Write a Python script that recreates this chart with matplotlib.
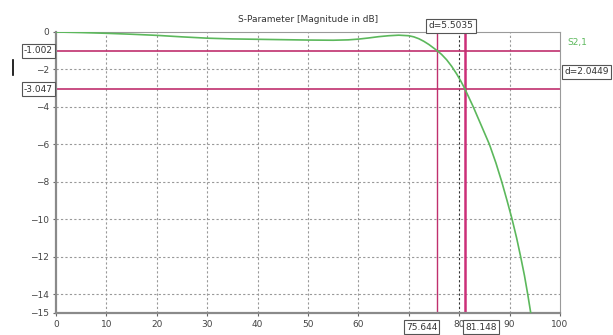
import matplotlib.pyplot as plt
from matplotlib.lines import Line2D

# S2,1 magnitude (dB) vs frequency
freq = [0, 5, 10, 15, 20, 25, 30, 35, 40, 45, 50, 55, 58, 60, 62, 64, 66, 68,
        70, 71, 72, 73, 74, 75, 75.644, 76.5, 77.5, 78.5, 79.5, 80.3, 81.148,
        82.8, 84.4, 86.0, 87.3, 88.45, 89.5, 90.5, 91.4, 92.2, 92.95, 93.6, 94.2]
mag = [0, -0.03, -0.07, -0.12, -0.18, -0.26, -0.33, -0.37, -0.39, -0.41, -0.43,
       -0.44, -0.42, -0.38, -0.32, -0.25, -0.2, -0.17, -0.2, -0.26, -0.36, -0.5,
       -0.67, -0.87, -1.002, -1.196, -1.48, -1.83, -2.24, -2.61, -3.047,
       -4.0, -5.0, -6.0, -7.0, -8.0, -9.0, -10.0, -11.0, -12.0, -13.0, -14.0, -15.0]

# markers
mark_x = [75.644, 81.148]
mark_y = [-1.002, -3.047]
dx_label = 'd=5.5035'
dy_label = 'd=2.0449'

xticks = [0, 10, 20, 30, 40, 50, 60, 70, 80, 90, 100]
# 70 sits under the 75.644 box in the reference
xlabels = ['0', '10', '20', '30', '40', '50', '60', '', '80', '90', '100']
yticks = [0, -2, -4, -6, -8, -10, -12, -14, -15]

mag_col = '#c0306e'
box = dict(boxstyle='square,pad=0.25', fc='white', ec='#555555', lw=0.8)

fig = plt.figure(figsize=(6.13, 3.35), dpi=100)
ax = fig.add_axes([0.0914, 0.0657, 0.8221, 0.8388])

# grid
for x in xticks[1:-1]:
    c = '#333333' if x == 80 else '#999999'
    ax.axvline(x, color=c, lw=0.8, ls=(0, (2, 2)), zorder=1)
for y in yticks[1:-1]:
    ax.axhline(y, color='#999999', lw=0.8, ls=(0, (2, 2)), zorder=1)

ax.plot(freq, mag, color='#5cb85c', lw=1.2, zorder=3)

ax.axvline(mark_x[0], color=mag_col, lw=1.0, zorder=2)
ax.axvline(mark_x[1], color='#cc2f78', lw=1.8, zorder=2)
for y in mark_y:
    ax.axhline(y, color=mag_col, lw=1.2, zorder=2)

ax.set_xlim(0, 100)
ax.set_ylim(-15, 0)
ax.set_xticks(xticks)
ax.set_xticklabels(xlabels)
ax.set_yticks(yticks)
ax.tick_params(labelsize=6.5, labelcolor='#444444', length=2, color='#666666', pad=3)

for s in ['left', 'bottom']:
    ax.spines[s].set_color('#8a8a8a')
    ax.spines[s].set_linewidth(1.6)
for s in ['top', 'right']:
    ax.spines[s].set_color('#9a9a9a')
    ax.spines[s].set_linewidth(0.8)

ax.set_title('S-Parameter [Magnitude in dB]', fontsize=6.5, color='#333333', pad=7)

# marker value boxes
tr_y = ax.get_yaxis_transform()
tr_x = ax.get_xaxis_transform()
for y in mark_y:
    ax.text(-0.006, y, f'{y:.3f}', transform=tr_y, ha='right', va='center',
            fontsize=6.5, color='#333333', bbox=box, zorder=5, clip_on=False)
ax.text(mark_x[0], -0.034, f'{mark_x[0]:.3f}', transform=tr_x, ha='right', va='top',
        fontsize=6.5, color='#333333', bbox=box, zorder=5, clip_on=False)
ax.text(mark_x[1], -0.034, f'{mark_x[1]:.3f}', transform=tr_x, ha='left', va='top',
        fontsize=6.5, color='#333333', bbox=box, zorder=5, clip_on=False)
ax.text(sum(mark_x) / 2, 1.006, dx_label, transform=tr_x, ha='center', va='bottom',
        fontsize=6.5, color='#333333', bbox=box, zorder=5, clip_on=False)
ax.text(1.008, sum(mark_y) / 2 - 0.1, dy_label, transform=tr_y, ha='left', va='center',
        fontsize=6.5, color='#333333', bbox=box, zorder=5, clip_on=False)
ax.text(1.014, -0.55, 'S2,1', transform=tr_y, ha='left', va='center',
        fontsize=6.5, color='#5cb85c')

fig.add_artist(Line2D([12.5 / 613, 12.5 / 613], [1 - 60 / 335, 1 - 75 / 335],
                      color='black', lw=1.2))

fig.savefig('out.png', dpi=100)
